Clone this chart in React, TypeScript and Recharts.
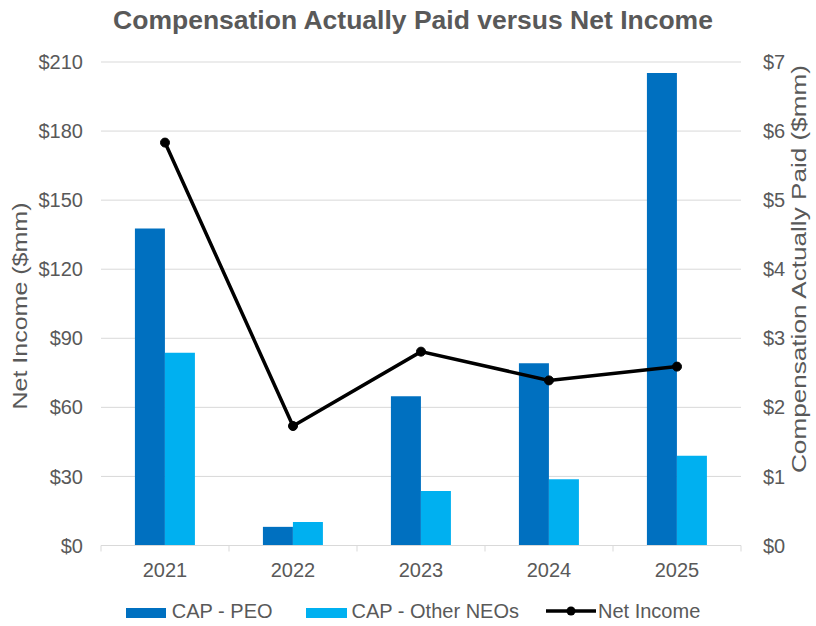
import React from "react";
import {
  ComposedChart,
  Bar,
  Line,
  XAxis,
  YAxis,
  CartesianGrid,
  Legend,
} from "recharts";

const years = ["2021", "2022", "2023", "2024", "2025"];
const capPeo = [4.59, 0.27, 2.16, 2.64, 6.84];
const capOtherNeos = [2.79, 0.34, 0.79, 0.96, 1.3];
const netIncome = [175.0, 51.9, 84.2, 71.7, 77.7];
const leftTicks = [0, 30, 60, 90, 120, 150, 180, 210];
const rightTicks = [0, 1, 2, 3, 4, 5, 6, 7];

const data = years.map((year, i) => ({
  year,
  peo: capPeo[i],
  other: capOtherNeos[i],
  net: netIncome[i],
}));

const FONT = "'Liberation Sans', Arial, sans-serif";
const GREY = "#595959";
const AXIS_GREY = "#d9d9d9";
const PEO_BLUE = "#0070C0";
const OTHER_BLUE = "#00B0F0";
const X_TICK_GAP = 17; // tickSize + tickMargin below the axis line

// year label plus Excel-style tick marks at the category edges
const YearTick = (props: any) => {
  const { x, y, payload, index, visibleTicksCount } = props;
  const half = payload.offset ?? 0;
  const axisY = y - X_TICK_GAP;
  const isLast = index === visibleTicksCount - 1;
  return (
    <g>
      <line x1={x - half} y1={axisY} x2={x - half} y2={axisY + 6} stroke={AXIS_GREY} />
      {isLast && <line x1={x + half} y1={axisY} x2={x + half} y2={axisY + 6} stroke={AXIS_GREY} />}
      <text x={x} y={y} dy="0.71em" textAnchor="middle" fontFamily={FONT} fontSize={20} fill={GREY}>
        {payload.value}
      </text>
    </g>
  );
};

// custom legend, laid out like the Excel one
const ChartLegend = () => (
  <div
    style={{
      height: 30,
      display: "flex",
      alignItems: "center",
      justifyContent: "center",
      paddingLeft: 10,
      fontFamily: FONT,
      fontSize: 20,
      color: GREY,
    }}
  >
    <span style={{ width: 40, height: 10, background: PEO_BLUE, marginTop: 4 }} />
    <span style={{ marginLeft: 6 }}>CAP - PEO</span>
    <span
      style={{ width: 41, height: 10, background: OTHER_BLUE, marginLeft: 33, marginTop: 4 }}
    />
    <span style={{ marginLeft: 5 }}>CAP - Other NEOs</span>
    <svg width={50} height={12} style={{ marginLeft: 27 }}>
      <line x1={0} y1={6} x2={50} y2={6} stroke="#000" strokeWidth={3.5} />
      <circle cx={25} cy={6} r={4.5} fill="#000" />
    </svg>
    <span style={{ marginLeft: 2 }}>Net Income</span>
  </div>
);

const AxisTitle = ({ x, y, text, length }: { x: number; y: number; text: string; length: number }) => (
  <text
    x={x}
    y={y}
    transform={`rotate(-90, ${x}, ${y})`}
    textAnchor="middle"
    dominantBaseline="central"
    fontFamily={FONT}
    fontSize={20}
    fill={GREY}
    textLength={length}
    lengthAdjust="spacingAndGlyphs"
  >
    {text}
  </text>
);

export default function App() {
  return (
    <div style={{ position: "absolute", left: 0, top: 0, width: 816, height: 626, background: "#fff" }}>
      <div
        style={{
          position: "absolute",
          left: 0,
          top: 7,
          width: 826,
          textAlign: "center",
          fontFamily: FONT,
          fontWeight: "bold",
          fontSize: 26.5,
          lineHeight: "26px",
          color: GREY,
        }}
      >
        Compensation Actually Paid versus Net Income
      </div>
      <ComposedChart
        width={816}
        height={626}
        data={data}
        margin={{ top: 62, right: 0, left: 0, bottom: 0 }}
        barCategoryGap="26.5%"
        barGap={0}
      >
        <CartesianGrid yAxisId="left" vertical={false} stroke={AXIS_GREY} />
        <XAxis
          dataKey="year"
          height={50.5}
          axisLine={{ stroke: AXIS_GREY }}
          tickLine={false}
          tickSize={6}
          tickMargin={11}
          tick={<YearTick />}
        />
        <YAxis
          yAxisId="left"
          width={101}
          domain={[0, 210]}
          ticks={leftTicks}
          tickFormatter={(v) => `$${v}`}
          axisLine={false}
          tickLine={false}
          tickSize={0}
          tickMargin={18}
          tick={{ fontFamily: FONT, fontSize: 20, fill: GREY }}
          label={{
            content: () => <AxisTitle x={20} y={306} text="Net Income ($mm)" length={207} />,
          }}
        />
        <YAxis
          yAxisId="right"
          orientation="right"
          width={75}
          domain={[0, 7]}
          ticks={rightTicks}
          tickFormatter={(v) => `$${v}`}
          axisLine={false}
          tickLine={false}
          tickSize={0}
          tickMargin={22}
          tick={{ fontFamily: FONT, fontSize: 20, fill: GREY, textAnchor: "start" }}
          label={{
            content: () => (
              <AxisTitle x={799} y={269} text="Compensation Actually Paid ($mm)" length={408} />
            ),
          }}
        />
        <Legend verticalAlign="bottom" content={() => <ChartLegend />} />
        <Bar yAxisId="right" dataKey="peo" name="CAP - PEO" fill={PEO_BLUE} isAnimationActive={false} />
        <Bar
          yAxisId="right"
          dataKey="other"
          name="CAP - Other NEOs"
          fill={OTHER_BLUE}
          isAnimationActive={false}
        />
        <Line
          yAxisId="left"
          dataKey="net"
          name="Net Income"
          stroke="#000"
          strokeWidth={3.5}
          dot={{ r: 4.5, fill: "#000", stroke: "#000", strokeWidth: 1 }}
          isAnimationActive={false}
        />
      </ComposedChart>
    </div>
  );
}
